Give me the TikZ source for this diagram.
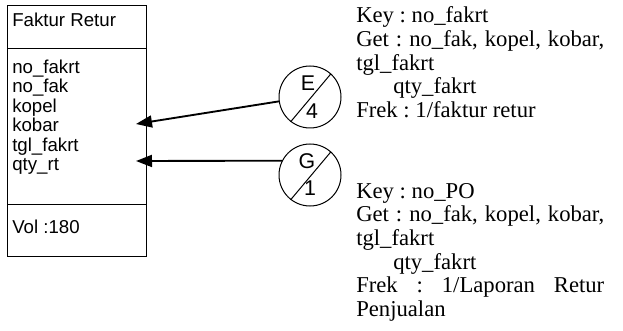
\documentclass[tikz,border=0pt]{standalone}
\usepackage{fontspec}
\setmainfont{Liberation Serif}
\newfontfamily\arialfont{Liberation Sans}
\usetikzlibrary{arrows.meta}
\frenchspacing
\begin{document}
\begin{tikzpicture}[x=0.75pt,y=-0.75pt,
  attr/.style={anchor=base west, inner sep=0pt, font=\arialfont\fontsize{14}{16}\selectfont},
  spec/.style={anchor=base west, inner sep=0pt, font=\fontsize{17}{19}\selectfont},
  circ/.style={draw, circle, line width=0.75pt, minimum size=46.5pt, inner sep=0pt},
  circlabel/.style={inner sep=0pt, font=\arialfont\fontsize{16}{18}\selectfont},
  arr/.style={line width=1.4pt, -{Triangle[length=12pt,width=9pt]}}]
\useasboundingbox (0,0) rectangle (623,331);

% entity box with its three compartments
\node[draw, line width=0.75pt, minimum width=104.25pt, minimum height=188.25pt,
      anchor=north west, inner sep=0pt] (ent) at (7,5) {};
\draw[line width=0.75pt] (7,49) -- (146,49);
\draw[line width=0.75pt] (7,204) -- (146,204);

\node[attr] (title) at (12,27) {Faktur Retur};
\node[attr] (a1) at (12,73.5) {no\_fakrt};
\node[attr] (a2) at (12,93) {no\_fak};
\node[attr] (a3) at (12,112.5) {kopel};
\node[attr] (a4) at (12,132) {kobar};
\node[attr] (a5) at (12,151.5) {tgl\_fakrt};
\node[attr] (a6) at (12,171) {qty\_rt};
\node[attr] (vol) at (12,233) {Vol :180};

% access circles
\node[circ] (E) at (310,97) {};
\draw[line width=0.75pt] (E.232) -- (E.48);
\node[circlabel] (Eu) at ([shift={(-2,-14)}]E.center) {E};
\node[circlabel] (El) at ([shift={(2,14)}]E.center) {4};

\node[circ] (G) at (310,175) {};
\draw[line width=0.75pt] (G.232) -- (G.48);
\node[circlabel] (Gu) at ([shift={(-3,-14)}]G.center) {G};
\node[circlabel] (Gl) at ([shift={(0,13)}]G.center) {1};

% access arrows into the entity
\coordinate (t1) at (136,124);
\coordinate (t2) at (136,161);
\draw[arr] (E.188) -- (t1);
\draw[arr] (G.153) -- (t2);

% access specifications
\node[spec] (k1) at (356,22.7) {Key : no\_fakrt};
\node[spec] (g1) at (356,46.4) {\makebox[186pt][s]{Get : no\_fak, kopel, kobar,}};
\node[spec] (d1) at (356,70.1) {tgl\_fakrt};
\node[spec] (q1) at (393,93.8) {qty\_fakrt};
\node[spec] (f1) at (356,117.5) {Frek : 1/faktur retur};

\node[spec] (k2) at (356,198) {Key : no\_PO};
\node[spec] (g2) at (356,221.7) {\makebox[186pt][s]{Get : no\_fak, kopel, kobar,}};
\node[spec] (d2) at (356,245.4) {tgl\_fakrt};
\node[spec] (q2) at (393,269.1) {qty\_fakrt};
\node[spec] (f2) at (356,292.8) {\makebox[186pt][s]{Frek : 1/Laporan Retur}};
\node[spec] (p2) at (356,316.5) {Penjualan};
\end{tikzpicture}
\end{document}
